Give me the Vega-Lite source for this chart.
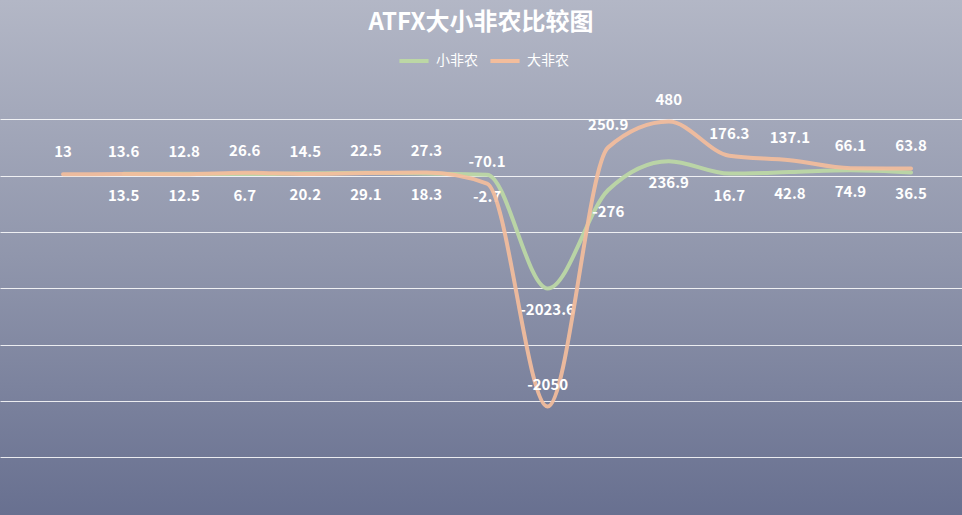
{
  "$schema": "https://vega.github.io/schema/vega-lite/v6.json",
  "width": 962,
  "height": 515,
  "autosize": {"type": "none"},
  "padding": 0,
  "background": "#8e94aa",
  "title": {
    "text": "ATFX大小非农比较图",
    "anchor": "middle",
    "offset": -35,
    "fontSize": 24,
    "fontWeight": "bold",
    "color": "#ffffff",
    "font": "Noto Sans CJK SC"
  },
  "data": {
    "values": [
      {"月份": "2019-08", "指标": "大非农", "值": 13},
      {"月份": "2019-09", "指标": "大非农", "值": 13.6},
      {"月份": "2019-10", "指标": "大非农", "值": 12.8},
      {"月份": "2019-11", "指标": "大非农", "值": 26.6},
      {"月份": "2019-12", "指标": "大非农", "值": 14.5},
      {"月份": "2020-01", "指标": "大非农", "值": 22.5},
      {"月份": "2020-02", "指标": "大非农", "值": 27.3},
      {"月份": "2020-03", "指标": "大非农", "值": -70.1},
      {"月份": "2020-04", "指标": "大非农", "值": -2050},
      {"月份": "2020-05", "指标": "大非农", "值": 250.9},
      {"月份": "2020-06", "指标": "大非农", "值": 480},
      {"月份": "2020-07", "指标": "大非农", "值": 176.3},
      {"月份": "2020-08", "指标": "大非农", "值": 137.1},
      {"月份": "2020-09", "指标": "大非农", "值": 66.1},
      {"月份": "2020-10", "指标": "大非农", "值": 63.8},
      {"月份": "2019-09", "指标": "小非农", "值": 13.5},
      {"月份": "2019-10", "指标": "小非农", "值": 12.5},
      {"月份": "2019-11", "指标": "小非农", "值": 6.7},
      {"月份": "2019-12", "指标": "小非农", "值": 20.2},
      {"月份": "2020-01", "指标": "小非农", "值": 29.1},
      {"月份": "2020-02", "指标": "小非农", "值": 18.3},
      {"月份": "2020-03", "指标": "小非农", "值": -2.7},
      {"月份": "2020-04", "指标": "小非农", "值": -2023.6},
      {"月份": "2020-05", "指标": "小非农", "值": -276},
      {"月份": "2020-06", "指标": "小非农", "值": 236.9},
      {"月份": "2020-07", "指标": "小非农", "值": 16.7},
      {"月份": "2020-08", "指标": "小非农", "值": 42.8},
      {"月份": "2020-09", "指标": "小非农", "值": 74.9},
      {"月份": "2020-10", "指标": "小非农", "值": 36.5}
    ]
  },
  "encoding": {
    "x": {
      "field": "月份",
      "type": "ordinal",
      "scale": {"type": "point", "padding": 0.941, "align": 0.553},
      "axis": null
    }
  },
  "layer": [
    {
      "transform": [{"filter": "datum['指标'] === '大非农'"}],
      "encoding": {
        "y": {
          "field": "值",
          "type": "quantitative",
          "scale": {"domain": [-3012, 1559], "nice": false, "zero": false},
          "axis": {
            "values": [-2500, -2000, -1500, -1000, -500, 0, 500],
            "grid": true,
            "gridColor": "#ffffff",
            "gridOpacity": 0.85,
            "gridWidth": 1,
            "labels": false,
            "ticks": false,
            "domain": false,
            "title": null
          }
        }
      },
      "layer": [
        {
          "mark": {"type": "point", "opacity": 0},
          "encoding": {}
        }
      ]
    },
    {
      "transform": [{"filter": "datum['指标'] === '小非农'"}],
      "encoding": {
        "y": {
          "field": "值",
          "type": "quantitative",
          "scale": {"domain": [-6045, 3098], "nice": false, "zero": false},
          "axis": null
        }
      },
      "layer": [
        {
          "mark": {"type": "line", "interpolate": "monotone", "strokeWidth": 4, "strokeCap": "round", "opacity": 0.95},
          "encoding": {
            "color": {
              "field": "指标",
              "type": "nominal",
              "scale": {"domain": ["小非农", "大非农"], "range": ["#bcd7a5", "#f3bd9c"]},
              "legend": {"title": null}
            }
          }
        },
        {
          "mark": {"type": "text", "dy": 22, "fontSize": 15, "fontWeight": "bold", "fill": "#ffffff", "font": "Noto Sans CJK SC"},
          "encoding": {"text": {"field": "值", "type": "nominal"}}
        }
      ]
    },
    {
      "transform": [{"filter": "datum['指标'] === '大非农'"}],
      "encoding": {
        "y": {
          "field": "值",
          "type": "quantitative",
          "scale": {"domain": [-3012, 1559], "nice": false, "zero": false},
          "axis": null
        }
      },
      "layer": [
        {
          "mark": {"type": "line", "interpolate": "monotone", "strokeWidth": 4, "strokeCap": "round", "opacity": 0.92},
          "encoding": {
            "color": {
              "field": "指标",
              "type": "nominal",
              "scale": {"domain": ["小非农", "大非农"], "range": ["#bcd7a5", "#f3bd9c"]},
              "legend": {"title": null}
            }
          }
        },
        {
          "mark": {"type": "text", "dy": -22, "fontSize": 15, "fontWeight": "bold", "fill": "#ffffff", "font": "Noto Sans CJK SC"},
          "encoding": {"text": {"field": "值", "type": "nominal"}}
        }
      ]
    }
  ],
  "resolve": {"scale": {"y": "independent"}},
  "config": {
    "view": {
      "stroke": null,
      "fill": {
        "gradient": "linear",
        "x1": 0, "y1": 0, "x2": 0, "y2": 1,
        "stops": [
          {"offset": 0, "color": "#b3b7c6"},
          {"offset": 0.5, "color": "#9096ac"},
          {"offset": 1, "color": "#687090"}
        ]
      }
    },
    "legend": {
      "orient": "none",
      "legendX": 397,
      "legendY": 44,
      "direction": "horizontal",
      "padding": 0,
      "symbolType": "stroke",
      "symbolStrokeWidth": 4,
      "symbolSize": 850,
      "symbolOpacity": 1,
      "labelColor": "#ffffff",
      "labelFontSize": 14,
      "labelFont": "Noto Sans CJK SC",
      "labelOffset": 5,
      "columnPadding": 4
    }
  }
}
